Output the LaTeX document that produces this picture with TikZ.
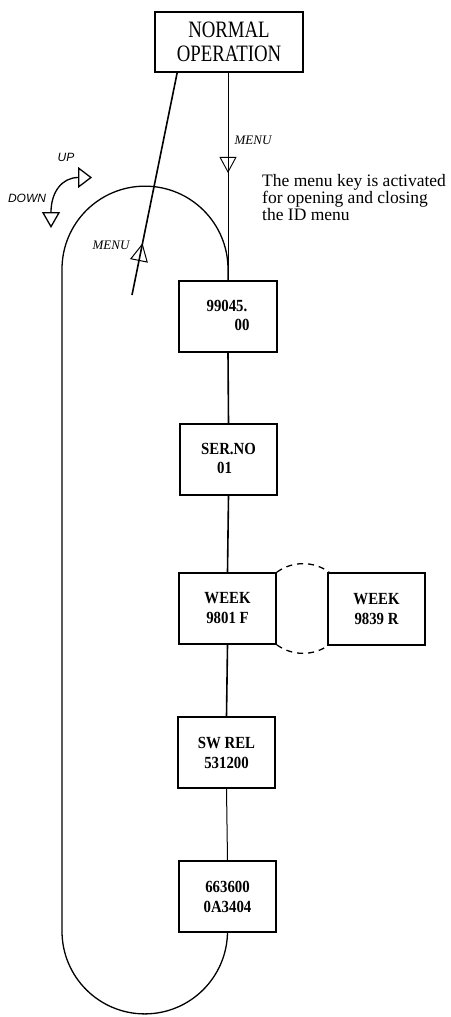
\documentclass[tikz,border=0pt]{standalone}
\usepackage{fontspec}
\setmainfont{Liberation Serif}
\newfontfamily\condserif[FakeStretch=0.8]{Liberation Serif}
\newfontfamily\boxserif[FakeStretch=0.87]{Liberation Serif}
\newfontfamily\labsans{Liberation Sans}
\usetikzlibrary{arrows.meta,decorations.markings,calc}
\tikzset{
  box/.style={draw, line width=1.7pt, minimum width=97pt, minimum height=71pt,
    inner sep=0pt, align=center, font=\boxserif\bfseries\fontsize{17}{20}\selectfont},
  topbox/.style={draw, line width=1.7pt, minimum width=148pt, minimum height=60pt,
    inner sep=0pt, align=center, font=\condserif\fontsize{23.5}{23.5}\selectfont},
  menulab/.style={inner sep=0pt, font=\itshape\fontsize{13}{13}\selectfont},
  udlab/.style={inner sep=0pt, font=\labsans\itshape\fontsize{12}{12}\selectfont},
  chain/.style={line width=1.6pt},
  loopline/.style={line width=1.3pt},
  tri/.style={decoration={markings, mark=at position #1 with
    {\arrow{Triangle[open, length=16pt, width=17pt, line width=0.9pt]}}}, postaction={decorate}},
  tribig/.style={decoration={markings, mark=at position #1 with
    {\arrow{Triangle[open, length=18pt, width=18pt, line width=1pt]}}}, postaction={decorate}},
}
\begin{document}
\begin{tikzpicture}[x=1pt,y=-1pt]
\useasboundingbox (0,0) rectangle (450,1017);

% nodes
\node[topbox] (normal) at (229,42) {NORMAL\\OPERATION};
\node[box, minimum width=98pt] (b1) at (228,316.5) {\begin{tabular}{@{}l@{}}99045.\\[-1pt]\hspace*{28pt}00\end{tabular}};
\node[box] (b2) at (228.5,459.5) {\begin{tabular}{@{}l@{}}SER.NO\\[-1pt]\hspace*{16pt}01\end{tabular}};
\node[box] (b3) at (227.5,608.5) {WEEK\\9801 F};
\node[box, minimum height=72pt] (b4) at (376.5,609) {WEEK\\9839 R};
\node[box] (b5) at (226.5,752.5) {SW REL\\531200};
\node[box] (b6) at (227.5,896.5) {663600\\0A3404};

\node[menulab] (m1) at (253,140) {MENU};
\node[menulab] (m2) at (111,245) {MENU};
\node[udlab] (up) at (66,157.5) {UP};
\node[udlab] (down) at (27,198.5) {DOWN};
\node[anchor=north west, inner sep=0pt, align=left, font=\fontsize{17.5}{14}\selectfont] (note) at (262,174)
  {The menu key is activated\\for opening and closing\\the ID menu};

% menu line from normal operation
\draw[line width=0.9pt, tri=0.483] (b1.north |- normal.south) -- (b1.north);

% diagonal menu line
\coordinate (dend) at (132,295);
\draw[line width=1.6pt, tribig=0.233] (dend) -- ($(normal.south west)+(23,0)$);

% loop
\draw[loopline] (b1.north) -- ++(0,-11) arc[start angle=0, end angle=-180, radius=83]
  -- ++(0,662) arc[start angle=180, end angle=0, radius=82.75] -- (b6.south);

% chain
\draw[chain] (b1.south) -- (b2.north);
\draw[chain] (b2.south) -- (b3.north);
\draw[chain] (b3.south) -- (b5.north);
\draw[line width=1pt] (b5.south) -- (b6.north);

% dashed circle between week boxes
\draw[line width=1.3pt, dash pattern=on 6pt off 5pt] (b3.north east) arc[start angle=-126, end angle=-54, radius=44.5];
\draw[line width=1.3pt, dash pattern=on 6pt off 5pt] (b3.south east) arc[start angle=126, end angle=54, radius=44.5];

% up/down arrow
\coordinate (dn) at (51,228);
\coordinate (upt) at (92,177.5);
\draw[line width=1.3pt, {Triangle[open,length=16pt,width=18pt]}-{Triangle[open,length=14pt,width=21pt]}]
  (dn) .. controls (51,192) and (62,177.5) .. (upt);
\end{tikzpicture}
\end{document}
